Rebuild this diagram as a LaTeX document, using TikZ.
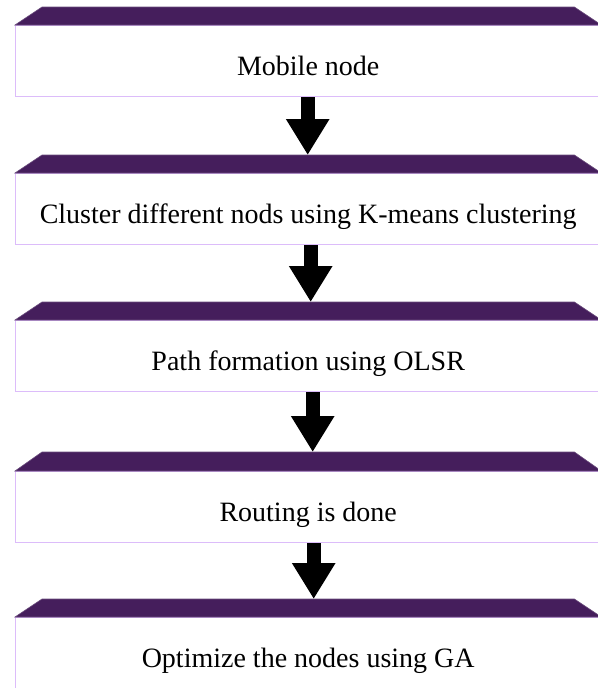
\documentclass[tikz,border=0pt]{standalone}
\usepackage{fontspec}
\setmainfont{Liberation Serif}
\usetikzlibrary{arrows.meta,calc}
\definecolor{band}{HTML}{451E5C}
\definecolor{bandedge}{HTML}{6A4C7C}
\definecolor{lav}{HTML}{DCBCFA}
\tikzset{
  stepbox/.style={draw=lav, line width=1.4pt, fill=white, minimum width=585pt, minimum height=71pt,
    inner sep=0pt, font=\fontsize{28}{30}\selectfont, text height=28pt, text depth=0pt},
  bandshape/.style={fill=band, draw=bandedge, line width=0.6pt},
  bigarrow/.style={line width=14pt, -{Triangle[width=41pt,length=36pt]}}
}
\begin{document}
\begin{tikzpicture}[x=1pt,y=1pt]
\useasboundingbox (0,0) rectangle (597,-688);
% boxes: rect top r, bottom r+71
\foreach \n/\t/\r/\txt in {1/7/25/{Mobile node},
                          2/155/173/{Cluster different nods using K-means clustering},
                          3/302/320/{Path formation using OLSR},
                          4/452/471/{Routing is done},
                          5/599/617/{Optimize the nodes using GA}}{
  \node[stepbox, anchor=north west] (n\n) at (15,-\r) {\txt};
  \coordinate (t\n) at (15,-\t);
  \fill[bandshape] (n\n.north west) -- ([xshift=27pt]n\n.north west |- t\n) -- ([xshift=-27pt]n\n.north east |- t\n) -- (n\n.north east) -- cycle;
}
% arrows
\foreach \a/\b/\dx in {1/2/-0.5, 2/3/2.5, 3/4/4.5, 4/5/5.5}{
  \draw[bigarrow] ([xshift=\dx pt]n\a.south) -- ([xshift=\dx pt]n\a.south |- t\b);
}
\end{tikzpicture}
\end{document}
